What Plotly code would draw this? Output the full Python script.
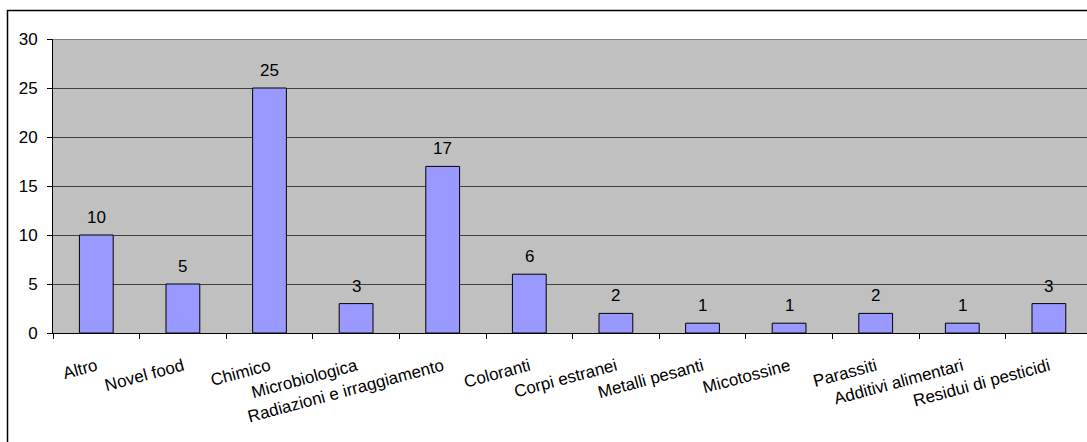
import plotly.graph_objects as go

# Reported cases by hazard category
categories = [
    "Altro", "Novel food", "Chimico", "Microbiologica",
    "Radiazioni e irraggiamento", "Coloranti", "Corpi estranei",
    "Metalli pesanti", "Micotossine", "Parassiti",
    "Additivi alimentari", "Residui di pesticidi",
]
counts = [10, 5, 25, 3, 17, 6, 2, 1, 1, 2, 1, 3]
y_ticks = [0, 5, 10, 15, 20, 25, 30]

FONT = "Arial, Liberation Sans, sans-serif"

W, H = 1087, 442
M_L, M_R, M_T, M_B = 53, 0, 39, 109
plot_w = W - M_L - M_R
plot_h = H - M_T - M_B


def px_to_paper_x(px):
    return (px - M_L) / plot_w


def px_to_paper_y(py):
    return (H - M_B - py) / plot_h


fig = go.Figure()
fig.add_trace(go.Bar(
    x=categories,
    y=counts,
    width=0.39,
    marker=dict(color="#9999FF", line=dict(color="#000000", width=1)),
    hoverinfo="x+y",
))

# Value labels above each bar
for cat, val in zip(categories, counts):
    fig.add_annotation(
        x=cat, y=val, text=str(val), showarrow=False,
        yanchor="bottom", yshift=6,
        font=dict(family=FONT, size=17, color="#000000"),
    )

# Plot-area top border and outer chart frame
fig.add_shape(type="line", xref="paper", yref="y", x0=0, x1=1.01, y0=30, y1=30,
              line=dict(color="#7f7f7f", width=2), layer="above")
fig.add_shape(type="rect", xref="paper", yref="paper",
              x0=px_to_paper_x(7.5), x1=px_to_paper_x(1100),
              y0=px_to_paper_y(460), y1=px_to_paper_y(10.5),
              line=dict(color="#000000", width=1.5), layer="above")

fig.update_layout(
    width=W, height=H,
    margin=dict(l=M_L, r=M_R, t=M_T, b=M_B, autoexpand=False),
    paper_bgcolor="#FFFFFF",
    plot_bgcolor="#C0C0C0",
    showlegend=False,
    font=dict(family=FONT, size=17, color="#000000"),
    xaxis=dict(
        type="category",
        range=[-0.5, 11.44],
        tickson="boundaries",
        ticks="outside", ticklen=5, tickcolor="#000000",
        showline=True, linecolor="#000000", linewidth=1,
        showgrid=False,
        tickangle=-15,
        ticklabelstandoff=16,
        tickfont=dict(family=FONT, size=17, color="#000000"),
    ),
    yaxis=dict(
        range=[0, 30],
        tickvals=y_ticks,
        ticks="outside", ticklen=5, tickcolor="#000000",
        showline=True, linecolor="#000000", linewidth=1,
        showgrid=True, gridcolor="#404040", gridwidth=1,
        zeroline=False,
        ticklabelstandoff=6,
        tickfont=dict(family=FONT, size=17, color="#000000"),
    ),
)

fig.write_html("out.html")
